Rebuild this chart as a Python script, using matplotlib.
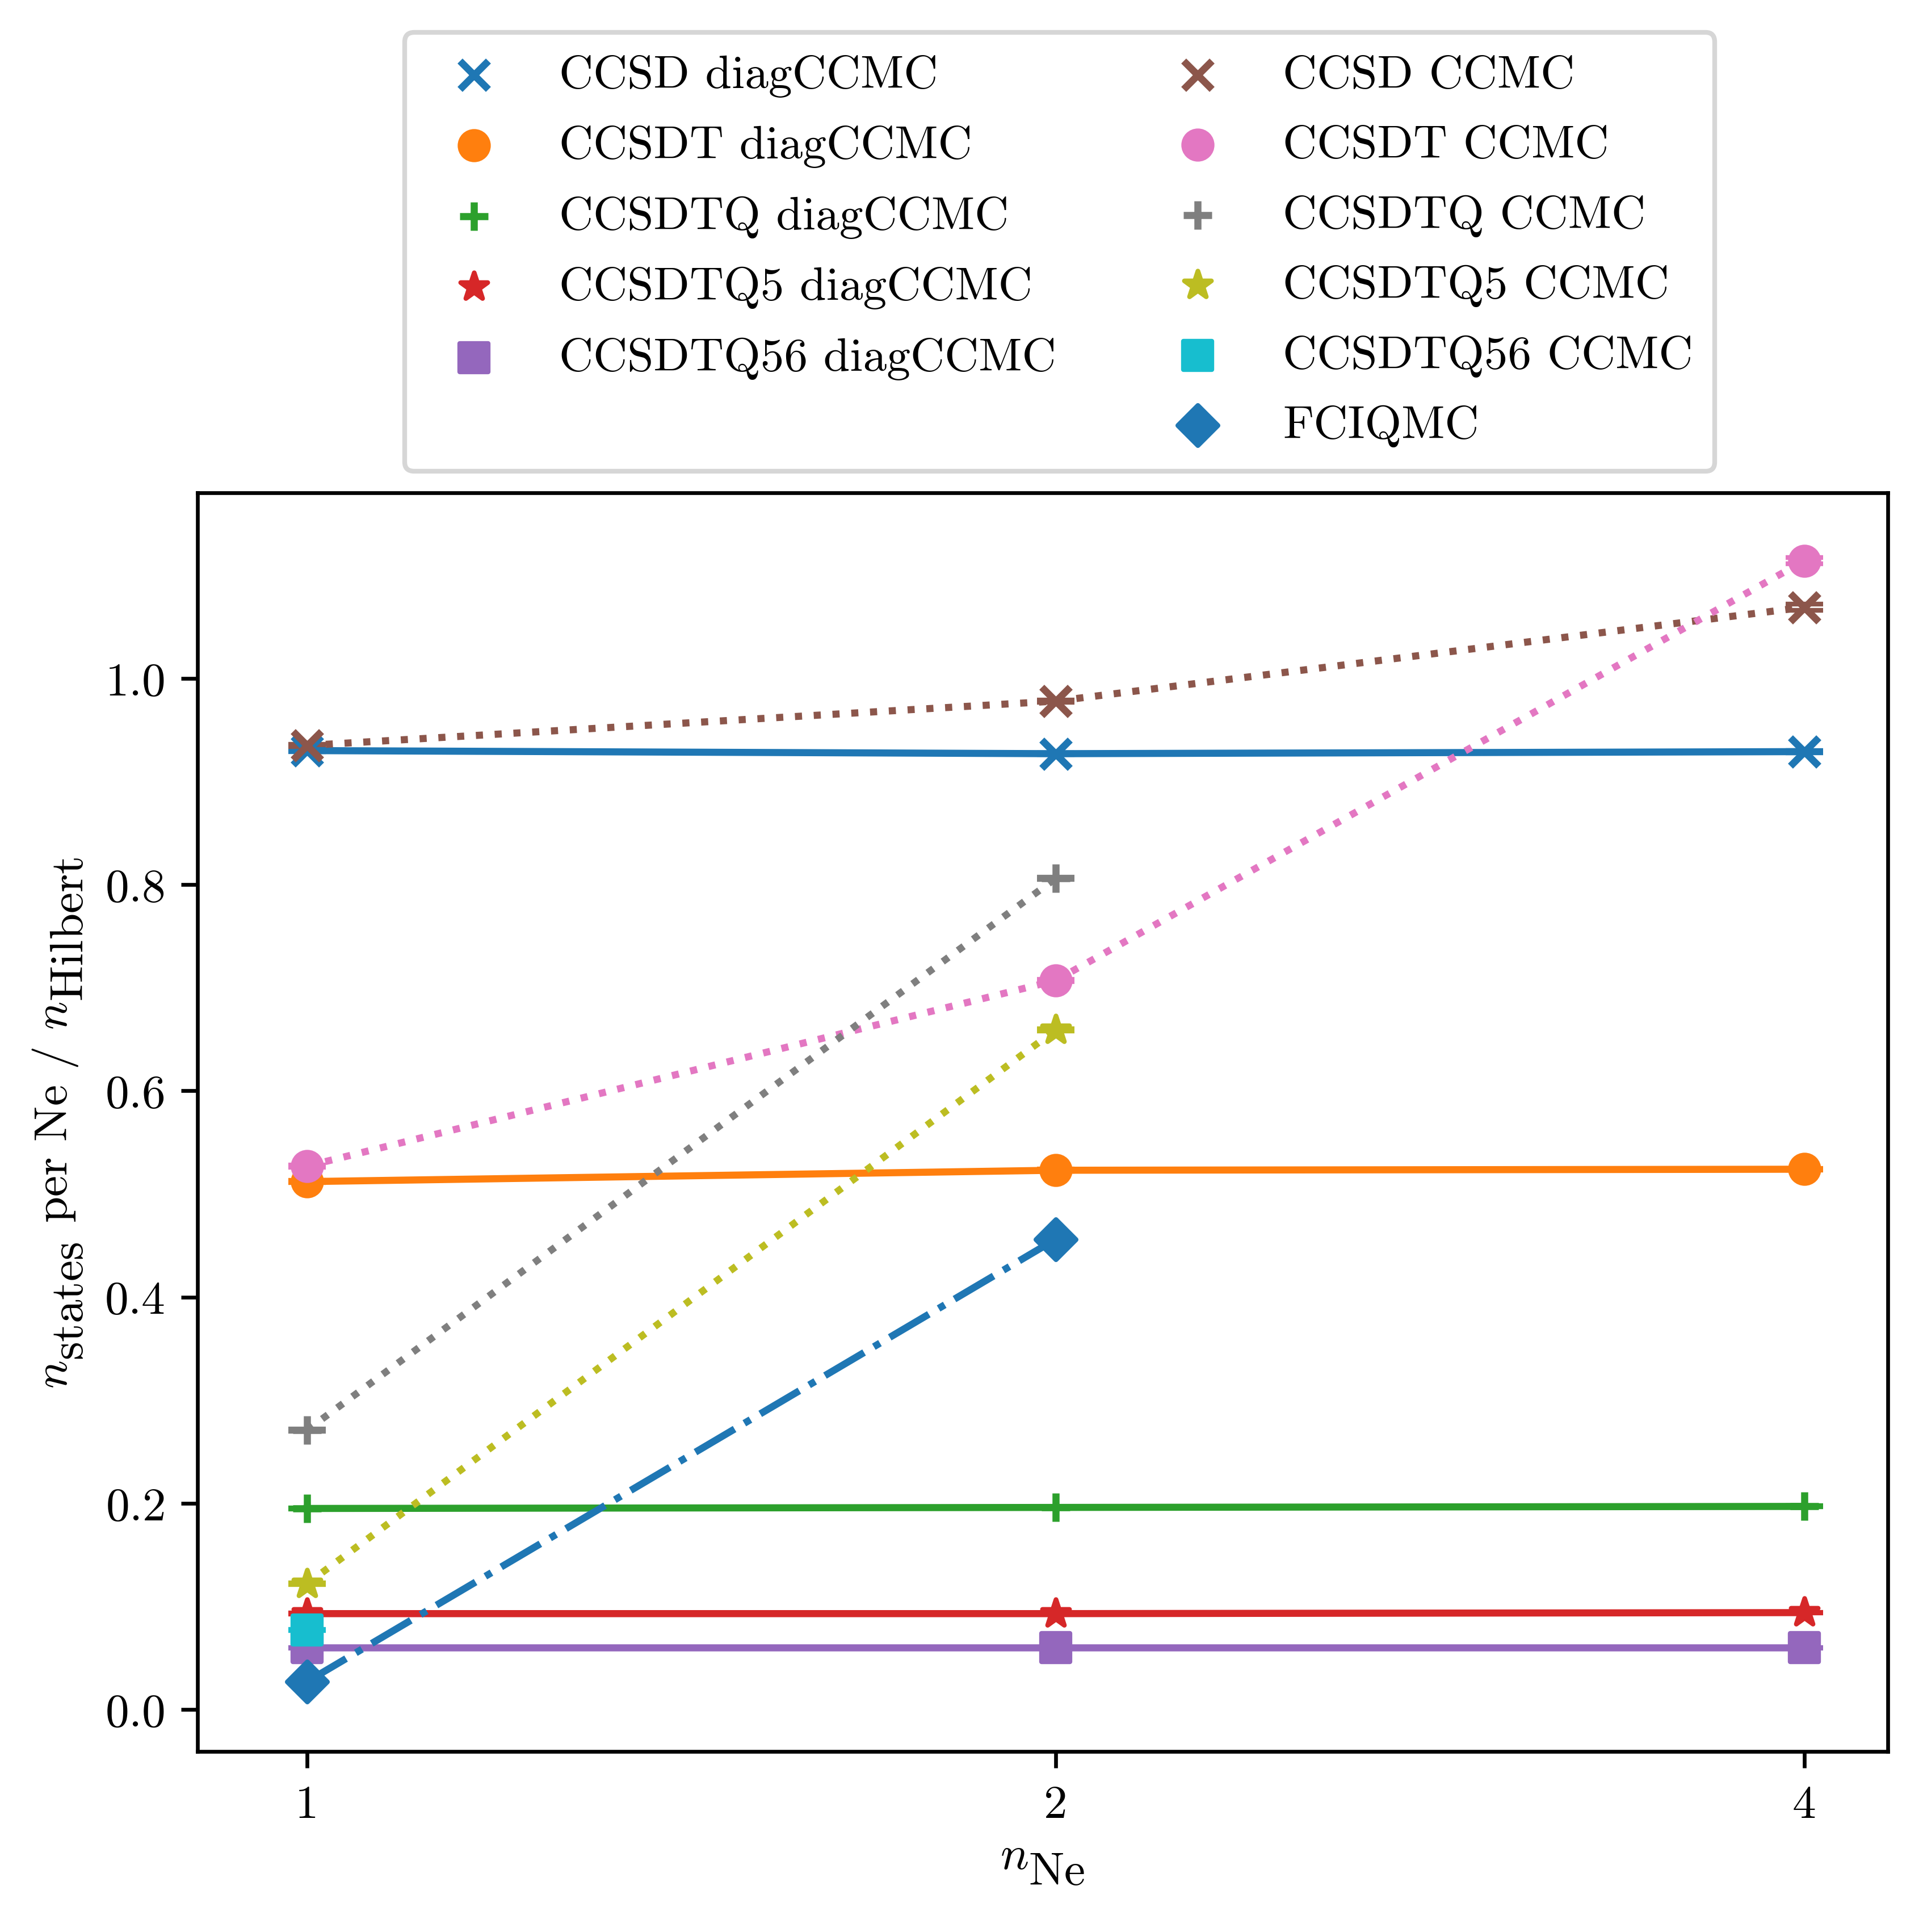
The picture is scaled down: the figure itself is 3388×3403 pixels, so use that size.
import matplotlib
matplotlib.use('Agg')
import matplotlib.pyplot as plt
import matplotlib._mathtext as mtInternal
from matplotlib.lines import Line2D

# LaTeX at a non-standard size keeps subscripts full size and drops them lower,
# mimic that with mathtext
mtInternal.SHRINK_FACTOR = 1.0
for consts in (mtInternal.FontConstantsBase, mtInternal.ComputerModernFontConstants):
    consts.subdrop = 0.4
    consts.sub1 = 0.4

# Data
nNe = [1, 2, 4]
nNeShort = [1, 2]

ccsdDiag = [0.930, 0.927, 0.929]
ccsdtDiag = [0.512, 0.523, 0.524]
ccsdtqDiag = [0.195, 0.196, 0.197]
ccsdtq5Diag = [0.093, 0.093, 0.094]
ccsdtq56Diag = [0.060, 0.060, 0.060]

ccsdCCMC = [0.935, 0.978, 1.069]
ccsdtCCMC = [0.527, 0.707, 1.114]
ccsdtqCCMC = [0.271, 0.806]
ccsdtq5CCMC = [0.122, 0.659]
ccsdtq56CCMC = [0.077]
fciqmc = [0.027, 0.456]

# error bars (mostly tiny)
ccsdDiagErr = [0.001, 0.001, 0.001]
ccsdtDiagErr = [0.001, 0.001, 0.001]
ccsdtqDiagErr = [0.0005, 0.0005, 0.0005]
ccsdtq5DiagErr = [0.0005, 0.0005, 0.0005]
ccsdtq56DiagErr = [0.0003, 0.0003, 0.0003]
ccsdCCMCErr = [0.001, 0.001, 0.003]
ccsdtCCMCErr = [0.001, 0.001, 0.003]
ccsdtqCCMCErr = [0.001, 0.001]
ccsdtq5CCMCErr = [0.001, 0.001]
ccsdtq56CCMCErr = [0.0005]
fciqmcErr = [0.0, 0.0]

tickLabels = ['1', '2', '4']

#   Default MPL Settings
def mplDefaults():
    plt.rc('font', family='serif', size=10)
    plt.rc('font', serif=['cmr10'])
    plt.rc('mathtext', fontset='cm')
    plt.rc('axes', unicode_minus=False)
    plt.rcParams['axes.formatter.use_mathtext'] = True
mplDefaults()

series = [
    # x, y, err, label, marker, colour, linestyle
    (nNe, ccsdDiag, ccsdDiagErr, 'CCSD diagCCMC', 'x', 'C0', '-'),
    (nNe, ccsdtDiag, ccsdtDiagErr, 'CCSDT diagCCMC', 'o', 'C1', '-'),
    (nNe, ccsdtqDiag, ccsdtqDiagErr, 'CCSDTQ diagCCMC', '+', 'C2', '-'),
    (nNe, ccsdtq5Diag, ccsdtq5DiagErr, 'CCSDTQ5 diagCCMC', '*', 'C3', '-'),
    (nNe, ccsdtq56Diag, ccsdtq56DiagErr, 'CCSDTQ56 diagCCMC', 's', 'C4', '-'),
    (nNe, ccsdCCMC, ccsdCCMCErr, 'CCSD CCMC', 'x', 'C5', ':'),
    (nNe, ccsdtCCMC, ccsdtCCMCErr, 'CCSDT CCMC', 'o', 'C6', ':'),
    (nNeShort, ccsdtqCCMC, ccsdtqCCMCErr, 'CCSDTQ CCMC', '+', 'C7', ':'),
    (nNeShort, ccsdtq5CCMC, ccsdtq5CCMCErr, 'CCSDTQ5 CCMC', '*', 'C8', ':'),
    (nNe[:1], ccsdtq56CCMC, ccsdtq56CCMCErr, 'CCSDTQ56 CCMC', 's', 'C9', ':'),
    (nNeShort, fciqmc, fciqmcErr, 'FCIQMC', 'D', 'C0', '-.'),
]

fig = plt.figure(figsize=(3388 / 600, 3404 / 600))
ax = fig.add_axes([0.1027, 0.0934, 0.8790, 0.6513])

handles = []
for x, y, err, label, marker, colour, ls in series:
    ax.errorbar(x, y, yerr=err, color=colour, linestyle=ls, capsize=4)
    sc = ax.scatter(x, y, marker=marker, color=colour, label=label, zorder=3)
    handles.append(sc)

# blank slot so FCIQMC ends up in the second column
blank = Line2D([], [], linestyle='none', alpha=0)
legHandles = handles[:5] + [blank] + handles[5:]
legLabels = [h.get_label() for h in handles[:5]] + [''] + [h.get_label() for h in handles[5:]]

ax.set_xscale('log', base=2)
ax.set_xticks(nNe)
ax.set_xticklabels(tickLabels)
ax.minorticks_off()
ax.set_xlim(0.9036, 4.322)
ax.set_ylim(-0.0407, 1.180)

ax.set_xlabel(r'$n_{\mathrm{Ne}}$')
ax.set_ylabel(r'$n_{\mathrm{states}}$ per Ne / $n_{\mathrm{Hilbert}}$')

fig.legend(legHandles, legLabels, ncol=2, loc='upper center',
           bbox_to_anchor=(0.5511, 0.983), borderaxespad=0,
           labelspacing=0.59, borderpad=0.46)

fig.savefig('out.png', dpi=600)
print('Export Complete')
